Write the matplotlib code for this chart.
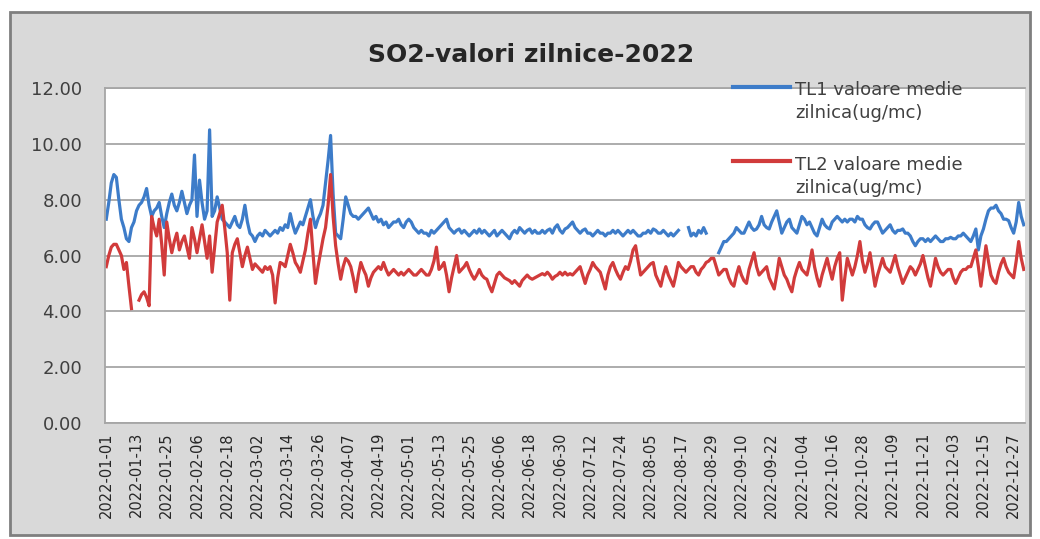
import numpy as np
import pandas as pd
import matplotlib
matplotlib.use('Agg')
import matplotlib.pyplot as plt
from matplotlib.patches import Rectangle
from matplotlib.lines import Line2D

nan = np.nan

# daily values 2022 (ug/mc)
tl1 = [
    7.3, 7.9, 8.6, 8.9, 8.8, 8.0, 7.3, 7.0, 6.6, 6.5,
    7.0, 7.2, 7.6, 7.8, 7.9, 8.1, 8.4, 7.8, 7.4, 7.6,
    7.7, 7.9, 7.4, 7.0, 7.5, 7.9, 8.2, 7.8, 7.6, 7.9,
    8.3, 7.9, 7.5, 7.8, 8.0, 9.6, 7.4, 8.7, 7.9, 7.3,
    7.6, 10.5, 7.4, 7.6, 8.1, 7.7, 7.3, 7.2, 7.1, 7.0,
    7.2, 7.4, 7.1, 7.0, 7.3, 7.8, 7.2, 6.8, 6.7, 6.5,
    6.7, 6.8, 6.7, 6.9, 6.8, 6.7, 6.8, 6.9, 6.8, 7.0,
    6.9, 7.1, 7.0, 7.5, 7.1, 6.8, 7.0, 7.2, 7.1, 7.4,
    7.7, 8.0, 7.4, 7.0, 7.3, 7.5, 7.8, 8.6, 9.4, 10.3,
    8.2, 6.8, 6.7, 6.6, 7.3, 8.1, 7.8, 7.5, 7.4, 7.4,
    7.3, 7.4, 7.5, 7.6, 7.7, 7.5, 7.3, 7.4, 7.2, 7.3,
    7.1, 7.2, 7.0, 7.1, 7.2, 7.2, 7.3, 7.1, 7.0, 7.2,
    7.3, 7.2, 7.0, 6.9, 6.8, 6.9, 6.8, 6.8, 6.7, 6.9,
    6.8, 6.9, 7.0, 7.1, 7.2, 7.3, 7.0, 6.9, 6.8, 6.9,
    6.95, 6.8, 6.9, 6.8, 6.7, 6.8, 6.9, 6.8, 6.95, 6.8,
    6.9, 6.8, 6.7, 6.8, 6.9, 6.7, 6.8, 6.9, 6.8, 6.7,
    6.6, 6.8, 6.9, 6.8, 7.0, 6.9, 6.8, 6.9, 6.95, 6.8,
    6.9, 6.8, 6.8, 6.9, 6.8, 6.9, 6.95, 6.8, 7.0, 7.1,
    6.9, 6.8, 6.95, 7.0, 7.1, 7.2, 7.0, 6.9, 6.8, 6.9,
    6.95, 6.8, 6.8, 6.7, 6.8, 6.9, 6.8, 6.8, 6.7, 6.8,
    6.8, 6.9, 6.8, 6.9, 6.8, 6.7, 6.8, 6.9, 6.8, 6.9,
    6.8, 6.7, 6.7, 6.8, 6.8, 6.9, 6.8, 6.95, 6.9, 6.8,
    6.8, 6.9, 6.8, 6.7, 6.8, 6.7, 6.8, 6.9, nan, nan,
    nan, 7.0, 6.7, 6.8, 6.7, 6.9, 6.8, 7.0, 6.8, nan,
    nan, nan, nan, 6.1, 6.3, 6.5, 6.5, 6.6, 6.7, 6.8,
    7.0, 6.9, 6.8, 6.8, 7.0, 7.2, 7.0, 6.9, 6.95, 7.1,
    7.4, 7.1, 7.0, 6.95, 7.2, 7.4, 7.6, 7.2, 6.8, 7.0,
    7.2, 7.3, 7.0, 6.9, 6.8, 7.1, 7.4, 7.3, 7.1, 7.2,
    7.0, 6.8, 6.7, 7.0, 7.3, 7.1, 7.0, 6.95, 7.2, 7.3,
    7.4, 7.3, 7.2, 7.3, 7.2, 7.3, 7.3, 7.2, 7.4, 7.3,
    7.3, 7.1, 7.0, 6.95, 7.1, 7.2, 7.2, 7.0, 6.8, 6.9,
    7.0, 7.1, 6.9, 6.8, 6.9, 6.9, 6.95, 6.8, 6.8, 6.7,
    6.5, 6.35, 6.5, 6.6, 6.6, 6.5, 6.6, 6.5, 6.6, 6.7,
    6.6, 6.5, 6.5, 6.6, 6.6, 6.65, 6.6, 6.6, 6.7, 6.7,
    6.8, 6.7, 6.6, 6.5, 6.7, 6.95, 6.2, 6.7, 6.95, 7.3,
    7.6, 7.7, 7.7, 7.8, 7.6, 7.5, 7.3, 7.3, 7.25, 7.0,
    6.8, 7.2, 7.9, 7.4, 7.1,
]

tl2 = [
    5.6, 6.0, 6.3, 6.4, 6.4, 6.2, 6.0, 5.5, 5.75, 4.9,
    4.1, nan, nan, 4.4, 4.6, 4.7, 4.5, 4.2, 7.4, 7.0,
    6.7, 7.3, 6.4, 5.3, 7.2, 6.6, 6.1, 6.5, 6.8, 6.2,
    6.5, 6.7, 6.3, 5.9, 7.0, 6.6, 6.1, 6.6, 7.1, 6.5,
    5.9, 6.7, 5.4, 6.3, 7.2, 7.5, 7.8, 7.0, 6.1, 4.4,
    6.1, 6.4, 6.6, 6.1, 5.6, 6.0, 6.3, 5.9, 5.5, 5.7,
    5.6, 5.5, 5.4, 5.6, 5.5, 5.6, 5.3, 4.3, 5.2, 5.75,
    5.7, 5.6, 6.0, 6.4, 6.1, 5.75, 5.6, 5.4, 5.8, 6.2,
    6.8, 7.3, 6.1, 5.0, 5.6, 6.1, 6.6, 7.0, 7.8, 8.9,
    7.4, 6.35, 5.7, 5.15, 5.6, 5.9, 5.8, 5.6, 5.2, 4.7,
    5.3, 5.75, 5.5, 5.3, 4.9, 5.2, 5.4, 5.5, 5.6, 5.5,
    5.75, 5.5, 5.3, 5.4, 5.5, 5.4, 5.3, 5.4, 5.3, 5.4,
    5.5, 5.4, 5.3, 5.3, 5.4, 5.5, 5.4, 5.3, 5.3, 5.5,
    5.8, 6.3, 5.5, 5.6, 5.75, 5.3, 4.7, 5.2, 5.6, 6.0,
    5.4, 5.5, 5.6, 5.75, 5.5, 5.3, 5.15, 5.3, 5.5, 5.3,
    5.2, 5.15, 4.9, 4.7, 5.0, 5.3, 5.4, 5.3, 5.2, 5.15,
    5.1, 5.0, 5.1, 5.0, 4.9, 5.1, 5.2, 5.3, 5.2, 5.15,
    5.2, 5.25, 5.3, 5.35, 5.3, 5.4, 5.3, 5.15, 5.25, 5.3,
    5.4, 5.3, 5.4, 5.3, 5.35, 5.3, 5.4, 5.5, 5.6, 5.3,
    5.0, 5.3, 5.5, 5.75, 5.6, 5.5, 5.4, 5.1, 4.8, 5.3,
    5.6, 5.75, 5.5, 5.3, 5.15, 5.4, 5.6, 5.5, 5.8, 6.2,
    6.35, 5.8, 5.3, 5.4, 5.5, 5.6, 5.7, 5.75, 5.3, 5.1,
    4.9, 5.3, 5.6, 5.3, 5.1, 4.9, 5.3, 5.75, 5.6, 5.5,
    5.4, 5.5, 5.6, 5.6, 5.4, 5.3, 5.5, 5.6, 5.75, 5.8,
    5.9, 5.9, 5.6, 5.3, 5.4, 5.5, 5.5, 5.2, 5.0, 4.9,
    5.3, 5.6, 5.3, 5.1, 5.0, 5.5, 5.8, 6.1, 5.6, 5.3,
    5.4, 5.5, 5.6, 5.2, 5.0, 4.8, 5.3, 5.9, 5.6, 5.3,
    5.15, 4.9, 4.7, 5.2, 5.5, 5.75, 5.5, 5.4, 5.3, 5.7,
    6.2, 5.6, 5.2, 4.9, 5.3, 5.6, 5.9, 5.5, 5.15, 5.6,
    5.9, 6.1, 4.4, 5.2, 5.9, 5.6, 5.3, 5.6, 6.0, 6.5,
    5.8, 5.4, 5.7, 6.1, 5.5, 4.9, 5.3, 5.6, 5.9, 5.6,
    5.5, 5.4, 5.7, 6.0, 5.6, 5.3, 5.0, 5.2, 5.4, 5.6,
    5.5, 5.3, 5.5, 5.7, 6.0, 5.6, 5.2, 4.9, 5.4, 5.9,
    5.6, 5.4, 5.3, 5.4, 5.5, 5.5, 5.2, 5.0, 5.2, 5.4,
    5.5, 5.5, 5.6, 5.6, 5.9, 6.2, 5.6, 4.9, 5.6, 6.35,
    5.8, 5.3, 5.1, 5.0, 5.4, 5.7, 5.9, 5.6, 5.4, 5.3,
    5.2, 5.8, 6.5, 5.9, 5.5,
]

tick_labels = [
    '2022-01-01', '2022-01-13', '2022-01-25', '2022-02-06', '2022-02-18',
    '2022-03-02', '2022-03-14', '2022-03-26', '2022-04-07', '2022-04-19',
    '2022-05-01', '2022-05-13', '2022-05-25', '2022-06-06', '2022-06-18',
    '2022-06-30', '2022-07-12', '2022-07-24', '2022-08-05', '2022-08-17',
    '2022-08-29', '2022-09-10', '2022-09-22', '2022-10-04', '2022-10-16',
    '2022-10-28', '2022-11-09', '2022-11-21', '2022-12-03', '2022-12-15',
    '2022-12-27',
]

series_names = ['TL1 valoare medie\nzilnica(ug/mc)', 'TL2 valoare medie\nzilnica(ug/mc)']
title = 'SO2-valori zilnice-2022'

days = pd.date_range('2022-01-01', '2022-12-31').strftime('%Y-%m-%d').tolist()
x = np.arange(len(days))
tick_pos = [days.index(t) for t in tick_labels]

W, H = 1040, 539
plt.rcParams['font.family'] = ['DejaVu Sans']

fig = plt.figure(figsize=(W / 100, H / 100), dpi=100)
fig.patch.set_facecolor('white')
# grey chart frame behind everything
fig.add_artist(Rectangle((10 / W, 1 - 535 / H), 1020 / W, 523 / H,
                         transform=fig.transFigure, facecolor='#d9d9d9',
                         edgecolor='#7f7f7f', lw=2, zorder=-10))

ax = fig.add_axes([105 / W, 1 - 423 / H, 920 / W, 335 / H])
ax.set_facecolor('white')
ax.set_zorder(1)

blue, red = '#3d7cc9', '#d13b3b'
l1, = ax.plot(x, tl1, color=blue, lw=2.3, solid_joinstyle='round')
l2, = ax.plot(x, tl2, color=red, lw=2.3, solid_joinstyle='round')

ax.set_xlim(-0.5, len(days) - 0.5)
ax.set_ylim(0, 12)
yt = np.arange(0, 12.01, 2)
ax.set_yticks(yt)
ax.set_yticklabels([f'{v:.2f}' for v in yt], fontsize=13, color='#404040')
ax.set_xticks(tick_pos)
ax.set_xticklabels(tick_labels, rotation=90, fontsize=10.5, color='#262626')
ax.tick_params(axis='y', length=0, pad=16.5)
ax.tick_params(axis='x', length=0, pad=6.5)
ax.yaxis.grid(True, color='#a6a6a6', lw=1.3)
ax.set_axisbelow(True)
for s in ['top', 'left', 'bottom']:
    ax.spines[s].set_color('#a6a6a6')
    ax.spines[s].set_linewidth(1.3)
ax.spines['right'].set_visible(False)

fig.text(531 / W, 1 - 62 / H, title, ha='center', va='baseline',
         fontsize=18, fontweight='bold', color='#262626')

# legend drawn by hand: handle aligned with first text line
for line, name, ly in [(l1, series_names[0], 86.5), (l2, series_names[1], 161)]:
    fig.add_artist(Line2D([733 / W, 790 / W], [1 - ly / H, 1 - ly / H],
                          color=line.get_color(), lw=3, transform=fig.transFigure,
                          zorder=5))
    for k, part in enumerate(name.split('\n')):
        fig.text(795 / W, 1 - (ly + 8.5 + 23 * k) / H, part, ha='left', va='baseline',
                 fontsize=13, color='#404040', zorder=5)

fig.savefig('out.png', dpi=100, facecolor=fig.get_facecolor())
